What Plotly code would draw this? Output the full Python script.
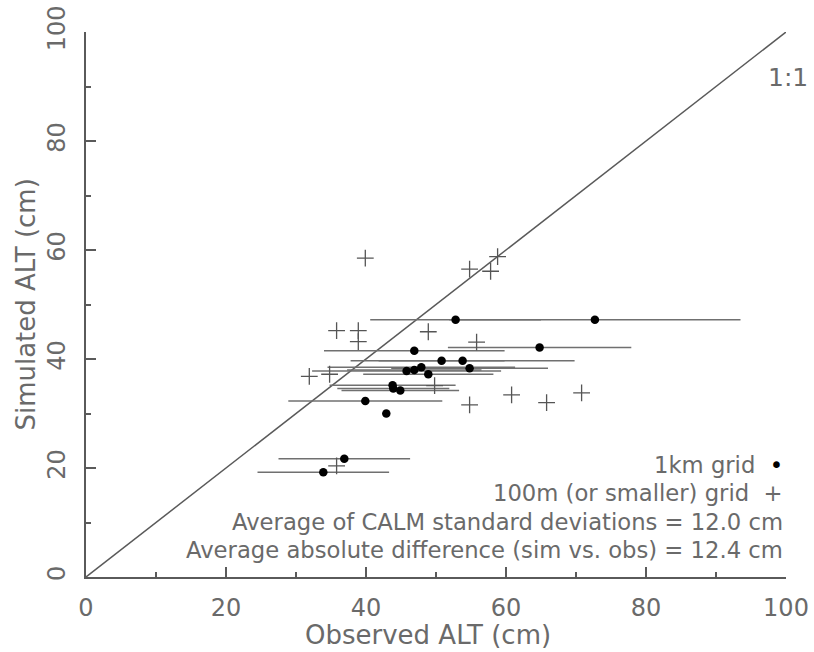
import plotly.graph_objects as go

# 1km grid points (observed, simulated, CALM std dev)
km_obs = [52.8, 72.7, 46.9, 64.8, 50.8, 53.8, 54.8, 47.9, 46.9, 45.8, 48.9, 43.8, 43.9, 44.9, 39.9, 42.9, 36.9, 33.9]
km_sim = [47.2, 47.2, 41.5, 42.1, 39.7, 39.7, 38.3, 38.5, 38.0, 37.8, 37.2, 35.2, 34.6, 34.2, 32.3, 30.0, 21.7, 19.2]
km_sd = [12.2, 20.8, 12.9, 13.1, 9.0, 16.0, 11.2, 13.4, 9.6, 13.5, 9.3, 9.0, 8.0, 8.4, 11.0, 0.0, 9.4, 9.4]

# 100m (or smaller) grid points
hm_obs = [39.9, 54.8, 57.8, 58.8, 35.8, 38.9, 38.9, 48.9, 55.8, 34.8, 31.9, 49.8, 54.8, 60.8, 65.8, 70.8, 35.8]
hm_sim = [58.5, 56.5, 56.1, 58.8, 45.2, 45.2, 43.2, 45.0, 43.1, 37.2, 36.8, 35.1, 31.6, 33.4, 32.0, 33.8, 20.4]

one_to_one = [0, 100]
ticks = [0, 20, 40, 60, 80, 100]

legend_lines = [
    "1km grid  <span style='color:black'>\u2022</span>",
    "100m (or smaller) grid  +",
    "Average of CALM standard deviations = 12.0 cm",
    "Average absolute difference (sim vs. obs) = 12.4 cm",
]
legend_y = [20.5, 15.4, 10.1, 5.0]

AX = "#5a5a5a"
TXT = "#6a6a6a"
FONT = "DejaVu Sans"

fig = go.Figure()
fig.add_trace(go.Scatter(x=one_to_one, y=one_to_one, mode="lines",
                         line=dict(color=AX, width=1.5), hoverinfo="skip"))
fig.add_trace(go.Scatter(x=km_obs, y=km_sim, mode="markers",
                         marker=dict(symbol="circle", size=8.5, color="black"),
                         error_x=dict(type="data", array=km_sd, arrayminus=km_sd,
                                      color="#707070", thickness=1.5, width=0)))
fig.add_trace(go.Scatter(x=hm_obs, y=hm_sim, mode="markers",
                         marker=dict(symbol="cross-thin", size=12,
                                     line=dict(color="#555555", width=1.3))))

fig.add_annotation(x=1.034, y=0.917, xref="paper", yref="paper", text="1:1", showarrow=False,
                   xanchor="right", yanchor="middle", font=dict(family=FONT, size=25, color=TXT))

for txt, yv in zip(legend_lines, legend_y):
    fig.add_annotation(x=99.9, y=yv, xref="x", yref="y",
                       text=txt, showarrow=False, xanchor="right", yanchor="middle",
                       font=dict(family=FONT, size=22.7, color=TXT))

# axis titles
fig.add_annotation(x=48.8, y=-0.106, xref="x", yref="paper", text="Observed ALT (cm)",
                   showarrow=False, xanchor="center", yanchor="middle",
                   font=dict(family=FONT, size=26, color=TXT))
fig.add_annotation(x=-0.087, y=0.5, xref="paper", yref="paper", text="Simulated ALT (cm)",
                   showarrow=False, xanchor="center", yanchor="middle", textangle=-90,
                   font=dict(family=FONT, size=26, color=TXT))

axis_common = dict(range=[0, 100], tickvals=ticks, showgrid=False, zeroline=False,
                   showline=True, linecolor=AX, linewidth=1.5, automargin=False,
                   ticks="inside", ticklen=10, tickwidth=1.5, tickcolor=AX,
                   minor=dict(dtick=10, ticks="inside", ticklen=5, tickwidth=1.5, tickcolor=AX),
                   tickfont=dict(family=FONT, size=24, color=TXT))

fig.update_layout(
    width=814, height=652,
    margin=dict(l=86, r=28, t=32, b=75),
    paper_bgcolor="white", plot_bgcolor="white",
    showlegend=False,
    font=dict(family=FONT, color=TXT),
    xaxis=dict(**axis_common, ticklabelstandoff=8),
    yaxis=dict(**axis_common, tickangle=-90, ticklabelstandoff=10),
)

# remove the default 8px page margin so the figure fills the window exactly
fig.write_html("out.html", config={"displayModeBar": False},
               post_script="document.body.style.margin='0';")
